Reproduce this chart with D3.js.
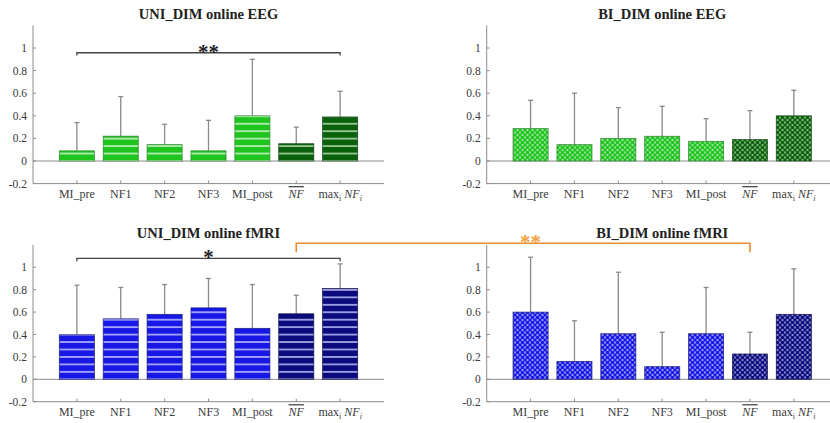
<!DOCTYPE html>
<html><head><meta charset="utf-8">
<script src="https://cdn.jsdelivr.net/npm/d3@7"></script>
<style>
html,body{margin:0;padding:0;background:#fff;}
svg{display:block;font-family:"Liberation Serif","DejaVu Serif",serif;}
</style></head>
<body><svg id="chart" width="830" height="423"></svg>
<script>
// ---- data ----
const categories = ["MI_pre","NF1","NF2","NF3","MI_post","NFbar","maxNF"];
const yTicks = [-0.2, 0, 0.2, 0.4, 0.6, 0.8, 1];
const yTickLabels = ["-0.2","0","0.2","0.4","0.6","0.8","1"];

const uniEEGMean = [0.09, 0.22, 0.145, 0.09, 0.40, 0.153, 0.39];
const uniEEGSd   = [0.25, 0.35, 0.18, 0.27, 0.50, 0.147, 0.227];
const biEEGMean  = [0.287, 0.145, 0.20, 0.219, 0.174, 0.19, 0.40];
const biEEGSd    = [0.25, 0.455, 0.273, 0.265, 0.201, 0.256, 0.226];
const uniFMRIMean = [0.398, 0.54, 0.58, 0.638, 0.455, 0.585, 0.81];
const uniFMRISd   = [0.442, 0.28, 0.266, 0.262, 0.391, 0.165, 0.22];
const biFMRIMean  = [0.60, 0.16, 0.407, 0.113, 0.407, 0.226, 0.58];
const biFMRISd    = [0.49, 0.363, 0.549, 0.307, 0.413, 0.194, 0.406];

const titles = ["UNI_DIM online EEG","BI_DIM online EEG","UNI_DIM online fMRI","BI_DIM online fMRI"];

// significance brackets: [fromIndex, toIndex, level, label]
const uniEEGSig = [0, 6, 0.958, "**"];
const uniFMRISig = [0, 6, 1.08, "*"];
const crossSig = { fromIdx: 5, toIdx: 5, level: 1.215, drop: 1.135, label: "**" };

// ---- layout ----
const svg = d3.select("#chart");
const defs = svg.append("defs");

const colors = {
  green: {base:"#1fc41f", light:"#c4f2c4", dotBg:"#b6ecb6", edge:"#2a7a2a"},
  dgreen:{base:"#0b600b", light:"#a9d6a9", dotBg:"#9ccc9c", edge:"#0a3d0a"},
  blue:  {base:"#1818e6", light:"#b8b8ff", dotBg:"#b4b4f6", edge:"#141470"},
  navy:  {base:"#0b0b7e", light:"#b4b4f0", dotBg:"#a6a6e0", edge:"#06063a"}
};

function stripePattern(id, c, y0){
  const p = defs.append("pattern").attr("id", id).attr("patternUnits","userSpaceOnUse")
    .attr("width", 10).attr("height", 7.45).attr("patternTransform", `translate(0,${y0})`);
  p.append("rect").attr("width",10).attr("height",7.45).attr("fill", c.base);
  p.append("rect").attr("y",-0.8).attr("width",10).attr("height",1.6).attr("fill", c.light);
  p.append("rect").attr("y",7.45-0.8).attr("width",10).attr("height",1.6).attr("fill", c.light);
}
function dotPattern(id, c){
  const s = 5;
  const p = defs.append("pattern").attr("id", id).attr("patternUnits","userSpaceOnUse")
    .attr("width", s).attr("height", s);
  p.append("rect").attr("width",s).attr("height",s).attr("fill", c.dotBg);
  [[0,0],[s,0],[0,s],[s,s],[s/2,s/2]].forEach(([cx,cy])=>{
    p.append("circle").attr("cx",cx).attr("cy",cy).attr("r",1.8).attr("fill",c.base);
  });
}

const panels = [
  {title:titles[0], mean:uniEEGMean, sd:uniEEGSd, x0:33,    yr:[183.6,25.4], kind:"stripe", c1:"green", c2:"dgreen", sig:uniEEGSig},
  {title:titles[1], mean:biEEGMean,  sd:biEEGSd,  x0:486.7, yr:[183.6,25.4], kind:"dot",    c1:"green", c2:"dgreen"},
  {title:titles[2], mean:uniFMRIMean,sd:uniFMRISd,x0:33,    yr:[401.7,244.9], kind:"stripe", c1:"blue", c2:"navy", sig:uniFMRISig},
  {title:titles[3], mean:biFMRIMean, sd:biFMRISd, x0:486.7, yr:[401.7,244.9], kind:"dot",    c1:"blue", c2:"navy"}
];

const axisColor = "#8c8c8c";
const textColor = "#3a3a3a";

function catLabel(sel, name){
  if (name === "NFbar"){
    sel.append("tspan").attr("font-style","italic").style("text-decoration","overline").text("NF");
  } else if (name === "maxNF"){
    sel.append("tspan").text("max");
    sel.append("tspan").attr("font-size",8).attr("dy",2.5).text("i");
    sel.append("tspan").attr("font-style","italic").attr("dy",-2.5).text(" NF");
    sel.append("tspan").attr("font-style","italic").attr("font-size",8).attr("dy",2.5).text("i");
  } else {
    sel.text(name);
  }
}

panels.forEach((P, pi) => {
  const x = d3.scaleLinear().domain([0, 8]).range([P.x0, P.x0 + 351]);
  const y = d3.scaleLinear().domain([-0.2, 1.2]).range(P.yr);
  P.x = x; P.y = y;
  const g = svg.append("g");
  const bw = (x(1) - x(0)) * 0.8;

  const id1 = `p${pi}a`, id2 = `p${pi}b`;
  if (P.kind === "stripe"){
    stripePattern(id1, colors[P.c1], y(0));
    stripePattern(id2, colors[P.c2], y(0));
  } else {
    dotPattern(id1, colors[P.c1]);
    dotPattern(id2, colors[P.c2]);
  }

  g.append("line").attr("x1", x(0)).attr("x2", x(8)).attr("y1", y(0)).attr("y2", y(0))
    .attr("stroke", axisColor).attr("stroke-width", 1);

  const idx = d3.range(categories.length);
  g.selectAll(".err").data(idx).join("line")
    .attr("x1", i => x(i+1)).attr("x2", i => x(i+1))
    .attr("y1", i => y(P.mean[i])).attr("y2", i => y(P.mean[i] + P.sd[i]))
    .attr("stroke", "#8a8a8a").attr("stroke-width", 1.3);
  g.selectAll(".cap").data(idx).join("line")
    .attr("x1", i => x(i+1) - 2.5).attr("x2", i => x(i+1) + 2.5)
    .attr("y1", i => y(P.mean[i] + P.sd[i])).attr("y2", i => y(P.mean[i] + P.sd[i]))
    .attr("stroke", "#8a8a8a").attr("stroke-width", 1.3);

  g.selectAll(".bar").data(idx).join("rect")
    .attr("x", i => x(i+1) - bw/2).attr("width", bw)
    .attr("y", i => y(P.mean[i])).attr("height", i => y(0) - y(P.mean[i]))
    .attr("fill", i => i >= 5 ? `url(#${id2})` : `url(#${id1})`)
    .attr("stroke", i => i >= 5 ? colors[P.c2].edge : colors[P.c1].edge)
    .attr("stroke-width", 0.8).attr("stroke-opacity", 0.8);

  g.append("line").attr("x1", x(0)).attr("x2", x(0)).attr("y1", y(-0.2)).attr("y2", y(1.2))
    .attr("stroke", axisColor).attr("stroke-width", 1);
  g.append("line").attr("x1", x(0)).attr("x2", x(8)).attr("y1", y(-0.2)).attr("y2", y(-0.2))
    .attr("stroke", axisColor).attr("stroke-width", 1);
  yTicks.forEach((t, k) => {
    g.append("line").attr("x1", x(0)).attr("x2", x(0) + 3).attr("y1", y(t)).attr("y2", y(t))
      .attr("stroke", axisColor);
    g.append("text").attr("x", x(0) - 6).attr("y", y(t)).attr("dy", "0.35em")
      .attr("text-anchor", "end").attr("font-size", 11.5).attr("fill", textColor).text(yTickLabels[k]);
  });
  idx.forEach(i => {
    g.append("line").attr("x1", x(i+1)).attr("x2", x(i+1)).attr("y1", y(-0.2)).attr("y2", y(-0.2) - 3)
      .attr("stroke", axisColor);
    const t = g.append("text").attr("x", x(i+1)).attr("y", y(-0.2) + 14.5)
      .attr("text-anchor", "middle").attr("font-size", 12).attr("fill", textColor);
    catLabel(t, categories[i]);
  });
  g.append("text").attr("x", (x(0) + x(8)) / 2).attr("y", y(1.2) - 6.5)
    .attr("text-anchor", "middle").attr("font-size", 14.5).attr("font-weight", "bold")
    .attr("fill", "#222").text(P.title);

  if (P.sig){
    const [a, b, lev, lab] = P.sig;
    const drop = 0.025;
    g.append("path")
      .attr("d", `M${x(a+1)},${y(lev - drop)}V${y(lev)}H${x(b+1)}V${y(lev - drop)}`)
      .attr("fill", "none").attr("stroke", "#444").attr("stroke-width", 1.3);
    g.append("text").attr("x", (x(a+1) + x(b+1)) / 2).attr("y", y(lev) + 6)
      .attr("text-anchor", "middle").attr("font-size", 21).attr("font-weight", "bold")
      .attr("fill", "#222").text(lab);
  }
});

{
  const L = panels[2], R = panels[3];
  const xa = L.x(crossSig.fromIdx + 1), xb = R.x(crossSig.toIdx + 1);
  const yl = L.y(crossSig.level), yd = L.y(crossSig.drop);
  svg.append("path").attr("d", `M${xa},${yd}V${yl}H${xb}V${yd}`)
    .attr("fill", "none").attr("stroke", "#ec8a32").attr("stroke-width", 1.6);
  svg.append("text").attr("x", R.x(1)).attr("y", yl + 6)
    .attr("text-anchor", "middle").attr("font-size", 21).attr("font-weight", "bold")
    .attr("fill", "#f0a040").text(crossSig.label);
}
</script></body></html>
